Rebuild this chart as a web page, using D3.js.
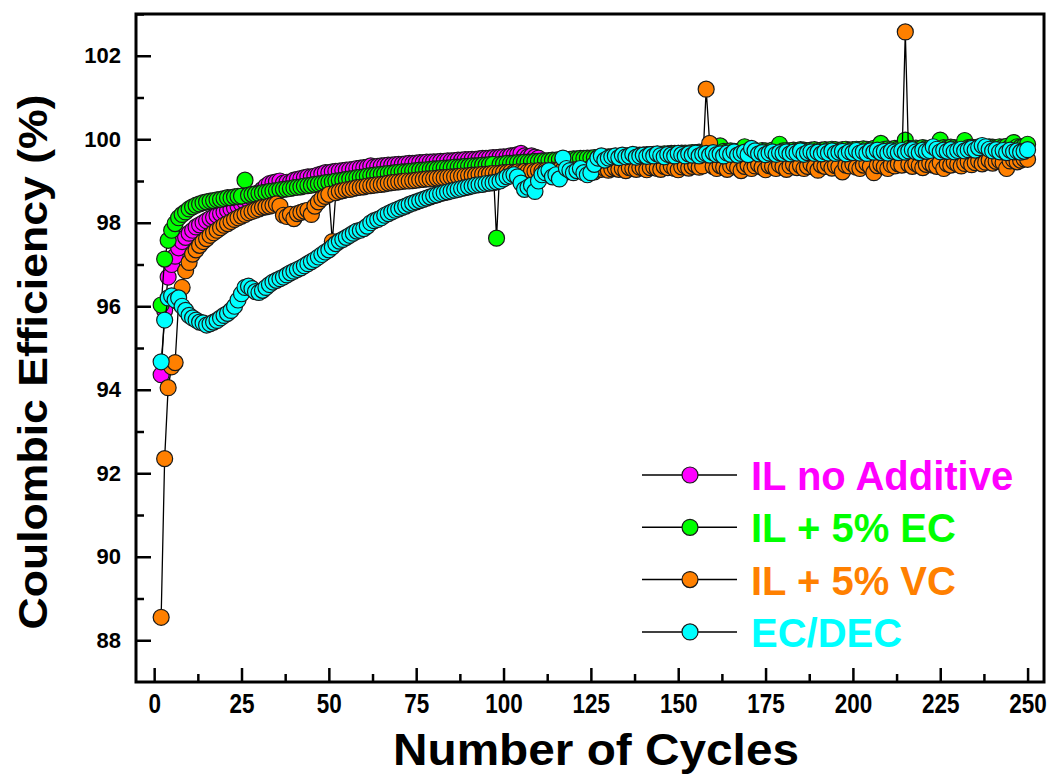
<!DOCTYPE html>
<html>
<head>
<meta charset="utf-8">
<script src="https://cdn.jsdelivr.net/npm/d3@7"></script>
<style>
  body { margin: 0; background: #fff; }
  text { font-family: "Liberation Sans", Arial, sans-serif; font-weight: bold; }
</style>
</head>
<body>
<div id="chart"></div>
<script>
// cycle number of the first point in every series
var firstCycle = 2;

var seriesNames = ["IL no Additive", "IL + 5% EC", "IL + 5% VC", "EC/DEC"];
var seriesColors = ["#ff00ff", "#00ff00", "#ff8000", "#00ffff"];

var ilNoAdditive = [
  94.36, 95.9, 96.7, 97.0, 97.2, 97.4, 97.55, 97.65, 97.75, 97.82,
  97.9, 97.95, 98.0, 98.05, 98.1, 98.13, 98.18, 98.22, 98.26, 98.3,
  98.33, 98.36, 98.4, 98.45, 98.5, 98.55, 98.6, 98.66, 98.72, 98.8,
  98.88, 98.94, 98.96, 98.98, 99.0, 98.95, 98.97, 98.97, 99.02, 99.04,
  99.06, 99.08, 99.1, 99.1, 99.12, 99.15, 99.17, 99.2, 99.2, 99.22,
  99.23, 99.24, 99.25, 99.26, 99.27, 99.28, 99.3, 99.31, 99.32, 99.33,
  99.36, 99.34, 99.35, 99.36, 99.37, 99.38, 99.38, 99.39, 99.4, 99.4,
  99.41, 99.42, 99.42, 99.43, 99.44, 99.44, 99.45, 99.45, 99.46, 99.46,
  99.47, 99.47, 99.48, 99.48, 99.49, 99.5, 99.5, 99.51, 99.51, 99.52,
  99.52, 99.53, 99.54, 99.54, 99.55, 99.56, 99.56, 99.57, 99.58, 99.58,
  99.6, 99.61, 99.63, 99.66, 99.6, 99.58, 99.6, 99.57, 99.55
];

var il5EC = [
  96.03, 97.13, 97.58, 97.82, 97.98, 98.12, 98.2, 98.26, 98.33, 98.38,
  98.42, 98.45, 98.48, 98.5, 98.52, 98.53, 98.55, 98.56, 98.58, 98.6,
  98.6, 98.62, 98.63, 98.64, 99.02, 98.66, 98.68, 98.69, 98.7, 98.72,
  98.73, 98.75, 98.76, 98.77, 98.79, 98.8, 98.81, 98.82, 98.84, 98.85,
  98.86, 98.88, 98.89, 98.9, 98.92, 98.93, 98.94, 98.96, 98.97, 98.98,
  99.0, 99.01, 99.02, 99.04, 99.05, 99.06, 99.08, 99.09, 99.1, 99.12,
  99.13, 99.14, 99.15, 99.16, 99.17, 99.18, 99.19, 99.2, 99.21, 99.22,
  99.22, 99.23, 99.24, 99.25, 99.26, 99.26, 99.27, 99.28, 99.29, 99.29,
  99.3, 99.31, 99.31, 99.32, 99.33, 99.33, 99.34, 99.35, 99.35, 99.36,
  99.36, 99.37, 99.38, 99.38, 99.39, 99.4, 97.63, 99.4, 99.41, 99.42,
  99.42, 99.43, 99.44, 99.44, 99.45, 99.45, 99.46, 99.47, 99.47, 99.48,
  99.48, 99.49, 99.5, 99.5, 99.51, 99.51, 99.52, 99.52, 99.53, 99.53,
  99.54, 99.54, 99.55, 99.55, 99.56, 99.56, 99.57, 99.57, 99.58, 99.58,
  99.59, 99.59, 99.6, 99.6, 99.61, 99.61, 99.62, 99.62, 99.62, 99.63,
  99.63, 99.64, 99.64, 99.64, 99.65, 99.65, 99.66, 99.66, 99.66, 99.67,
  99.67, 99.67, 99.68, 99.68, 99.69, 99.68, 99.72, 99.7, 99.71, 99.7,
  99.84, 99.71, 99.7, 99.72, 99.71, 99.7, 99.72, 99.82, 99.71, 99.7,
  99.72, 99.71, 99.73, 99.72, 99.71, 99.74, 99.73, 99.88, 99.72, 99.73,
  99.72, 99.74, 99.73, 99.75, 99.74, 99.72, 99.74, 99.75, 99.73, 99.74,
  99.75, 99.74, 99.76, 99.75, 99.73, 99.75, 99.76, 99.74, 99.75, 99.76,
  99.75, 99.77, 99.76, 99.75, 99.78, 99.77, 99.9, 99.76, 99.77, 99.76,
  99.78, 99.77, 99.79, 99.98, 99.78, 99.77, 99.79, 99.78, 99.8, 99.78,
  99.79, 99.8, 99.83, 99.98, 99.8, 99.79, 99.81, 99.8, 99.79, 99.81,
  99.97, 99.8, 99.81, 99.79, 99.82, 99.81, 99.8, 99.82, 99.81, 99.8,
  99.82, 99.81, 99.83, 99.81, 99.92, 99.82, 99.81, 99.83, 99.88
];

var il5VC = [
  88.55, 92.35, 94.05, 94.55, 94.65, 96.1, 96.45, 96.85, 97.05, 97.25,
  97.35, 97.46, 97.55, 97.62, 97.7, 97.76, 97.82, 97.88, 97.94, 97.98,
  98.03, 98.08, 98.12, 98.16, 98.2, 98.24, 98.27, 98.3, 98.33, 98.37,
  98.38, 98.4, 98.42, 98.45, 98.4, 98.18, 98.15, 98.2, 98.1, 98.22,
  98.25, 98.28, 98.3, 98.2, 98.4, 98.5, 98.58, 98.63, 98.68, 97.55,
  98.72, 98.75, 98.77, 98.79, 98.8, 98.82, 98.84, 98.85, 98.86, 98.88,
  98.89, 98.9, 98.91, 98.92, 98.93, 98.95, 98.96, 98.97, 98.98, 98.99,
  99.0, 99.0, 99.01, 99.02, 99.03, 99.04, 99.05, 99.05, 99.06, 99.07,
  99.08, 99.08, 99.09, 99.1, 99.1, 99.11, 99.12, 99.12, 99.13, 99.14,
  99.14, 99.15, 99.16, 99.16, 99.17, 99.18, 99.18, 99.19, 99.2, 99.2,
  99.21, 99.2, 99.22, 99.21, 99.23, 99.22, 99.24, 99.23, 99.25, 99.24,
  99.25, 99.24, 99.26, 99.25, 99.27, 99.26, 99.22, 99.27, 99.26, 99.28,
  99.27, 99.25, 99.28, 99.27, 99.22, 99.29, 99.28, 99.3, 99.26, 99.29,
  99.31, 99.28, 99.3, 99.25, 99.32, 99.3, 99.28, 99.33, 99.31, 99.27,
  99.32, 99.34, 99.3, 99.28, 99.35, 99.32, 99.36, 99.3, 99.27, 99.34,
  99.36, 99.31, 99.35, 99.38, 99.33, 99.36, 101.2, 99.9, 99.35, 99.3,
  99.37, 99.33, 99.28, 99.36, 99.39, 99.32, 99.25, 99.35, 99.38, 99.3,
  99.36, 99.4, 99.33, 99.27, 99.37, 99.35, 99.3, 99.39, 99.34, 99.28,
  99.36, 99.4, 99.32, 99.37, 99.3, 99.35, 99.41, 99.33, 99.26, 99.38,
  99.35, 99.4, 99.31, 99.37, 99.34, 99.22, 99.38, 99.36, 99.41, 99.33,
  99.3, 99.38, 99.42, 99.35, 99.2, 99.37, 99.4, 99.34, 99.3, 99.39,
  99.36, 99.41, 99.38, 102.57, 99.4, 99.35, 99.42, 99.37, 99.32, 99.4,
  99.43, 99.38, 99.35, 99.44, 99.3, 99.41, 99.38, 99.45, 99.4, 99.36,
  99.42, 99.46, 99.39, 99.44, 99.48, 99.41, 99.45, 99.5, 99.43, 99.47,
  99.49, 99.44, 99.3, 99.48, 99.51, 99.46, 99.5, 99.53, 99.52
];

var ecDec = [
  94.67, 95.67, 96.2, 96.25, 96.15, 96.2, 96.0, 95.9, 95.78, 95.72,
  95.67, 95.62, 95.6, 95.55, 95.58, 95.62, 95.66, 95.72, 95.78, 95.83,
  95.9, 96.0, 96.15, 96.3, 96.45, 96.48, 96.42, 96.35, 96.33, 96.38,
  96.45, 96.52, 96.58, 96.62, 96.66, 96.7, 96.75, 96.8, 96.84, 96.88,
  96.92, 96.97, 97.02, 97.07, 97.12, 97.18, 97.24, 97.3, 97.35, 97.42,
  97.5, 97.56, 97.6, 97.65, 97.7, 97.75, 97.8, 97.82, 97.86, 97.92,
  98.0, 98.05, 98.08, 98.12, 98.18, 98.22, 98.26, 98.3, 98.33, 98.37,
  98.4, 98.44, 98.47, 98.5, 98.53, 98.56, 98.59, 98.62, 98.65, 98.67,
  98.7, 98.72, 98.74, 98.76, 98.78, 98.8, 98.82, 98.84, 98.86, 98.88,
  98.9, 98.91, 98.92, 98.94, 98.95, 98.96, 98.98, 99.0, 99.05, 99.1,
  99.12, 99.15, 99.1, 98.95, 98.8, 98.85, 98.9, 98.75, 99.0, 99.15,
  99.2, 99.25, 99.1, 99.15, 99.05, 99.55, 99.3, 99.25, 99.2, 99.25,
  99.3, 99.2, 99.15, 99.2, 99.4, 99.55, 99.6, 99.5, 99.55, 99.58,
  99.6, 99.56, 99.62, 99.58, 99.6, 99.64, 99.57, 99.6, 99.62, 99.59,
  99.63, 99.6, 99.65, 99.61, 99.58, 99.64, 99.62, 99.6, 99.66, 99.63,
  99.6, 99.65, 99.62, 99.67, 99.6, 99.64, 99.66, 99.62, 99.68, 99.63,
  99.65, 99.6, 99.67, 99.64, 99.7, 99.62, 99.66, 99.69, 99.63, 99.78,
  99.72, 99.65, 99.68, 99.63, 99.67, 99.7, 99.64, 99.68, 99.66, 99.7,
  99.65, 99.69, 99.67, 99.72, 99.64, 99.68, 99.7, 99.66, 99.69, 99.65,
  99.7, 99.67, 99.72, 99.66, 99.69, 99.71, 99.65, 99.7, 99.68, 99.73,
  99.67, 99.7, 99.66, 99.72, 99.69, 99.74, 99.68, 99.71, 99.67, 99.72,
  99.7, 99.68, 99.73, 99.69, 99.72, 99.75, 99.7, 99.68, 99.74, 99.71,
  99.73, 99.82, 99.76, 99.7, 99.74, 99.71, 99.75, 99.7, 99.73, 99.76,
  99.72, 99.75, 99.78, 99.74, 99.8, 99.85, 99.82, 99.76, 99.72, 99.75,
  99.7, 99.73, 99.68, 99.74, 99.7, 99.72, 99.69, 99.71, 99.75
];

var xMajorTicks = [0, 25, 50, 75, 100, 125, 150, 175, 200, 225, 250];
var xMinorTicks = [12.5, 37.5, 62.5, 87.5, 112.5, 137.5, 162.5, 187.5, 212.5, 237.5];
var yMajorTicks = [88, 90, 92, 94, 96, 98, 100, 102];
var yMinorTicks = [89, 91, 93, 95, 97, 99, 101, 103];

var width = 1054, height = 778;
var margin = {top: 14, right: 10, bottom: 96, left: 136};
var plotW = width - margin.left - margin.right,
    plotH = height - margin.top - margin.bottom;

var svg = d3.select("#chart").append("svg")
    .attr("width", width)
    .attr("height", height);

var g = svg.append("g")
    .attr("transform", "translate(" + margin.left + "," + margin.top + ")");

var x = d3.scaleLinear().domain([-5.2, 254.7]).range([0, plotW]);
var y = d3.scaleLinear().domain([87, 103]).range([plotH, 0]);

var allSeries = [ilNoAdditive, il5EC, il5VC, ecDec].map(function(vals, i) {
    return {
        name: seriesNames[i],
        color: seriesColors[i],
        points: vals.map(function(v, j) { return {c: firstCycle + j, v: v}; })
    };
});

var plot = g.append("g");

var line = d3.line()
    .x(function(d) { return x(d.c); })
    .y(function(d) { return y(d.v); });

allSeries.forEach(function(s) {
    var sg = plot.append("g");
    sg.append("path")
        .datum(s.points)
        .attr("d", line)
        .style("fill", "none")
        .style("stroke", "#000")
        .style("stroke-width", 1.3);
    sg.selectAll("circle")
        .data(s.points)
        .enter().append("circle")
        .attr("cx", function(d) { return x(d.c); })
        .attr("cy", function(d) { return y(d.v); })
        .attr("r", 8)
        .style("fill", s.color)
        .style("stroke", "#1a1a1a")
        .style("stroke-width", 1.2);
});

// axes (ticks point inward)
var xAxis = g.append("g")
    .attr("transform", "translate(0," + plotH + ")")
    .call(d3.axisBottom(x).tickValues(xMajorTicks).tickSize(-14).tickPadding(11));
g.append("g")
    .attr("transform", "translate(0," + plotH + ")")
    .call(d3.axisBottom(x).tickValues(xMinorTicks).tickSize(-8).tickFormat(""));

var yAxis = g.append("g")
    .call(d3.axisLeft(y).tickValues(yMajorTicks).tickSize(-15).tickPadding(15));
g.append("g")
    .call(d3.axisLeft(y).tickValues(yMinorTicks).tickSize(-8).tickFormat(""));

g.selectAll(".domain").remove();
g.selectAll(".tick line").style("stroke", "#000").style("stroke-width", 2.5);

xAxis.selectAll("text")
    .style("font-size", "28px")
    .attr("textLength", function(d) { return String(d).length * 12.5; })
    .attr("lengthAdjust", "spacingAndGlyphs")
    .style("fill", "#000");

yAxis.selectAll("text")
    .style("font-size", "22px")
    .style("fill", "#000");

g.append("rect")
    .attr("width", plotW)
    .attr("height", plotH)
    .style("fill", "none")
    .style("stroke", "#000")
    .style("stroke-width", 3);

// axis titles
svg.append("text")
    .attr("x", 596)
    .attr("y", 765)
    .attr("text-anchor", "middle")
    .attr("textLength", 406)
    .attr("lengthAdjust", "spacingAndGlyphs")
    .style("font-size", "44px")
    .text("Number of Cycles");

svg.append("text")
    .attr("transform", "translate(47,362) rotate(-90)")
    .attr("text-anchor", "middle")
    .attr("textLength", 535)
    .attr("lengthAdjust", "spacingAndGlyphs")
    .style("font-size", "40px")
    .text("Coulombic Efficiency (%)");

// legend
var legend = svg.append("g")
    .attr("class", "legend")
    .selectAll("g")
    .data(allSeries)
    .enter().append("g")
    .attr("transform", function(d, i) { return "translate(642," + (475 + i * 52.3) + ")"; });

legend.append("line")
    .attr("x2", 95)
    .style("stroke", "#000")
    .style("stroke-width", 1.5);

legend.append("circle")
    .attr("cx", 48)
    .attr("r", 8)
    .style("fill", function(d) { return d.color; })
    .style("stroke", "#1a1a1a")
    .style("stroke-width", 1.2);

legend.append("text")
    .attr("x", 109)
    .attr("y", 15)
    .style("font-size", "40px")
    .style("fill", function(d) { return d.color; })
    .text(function(d) { return d.name; });
</script>
</body>
</html>
